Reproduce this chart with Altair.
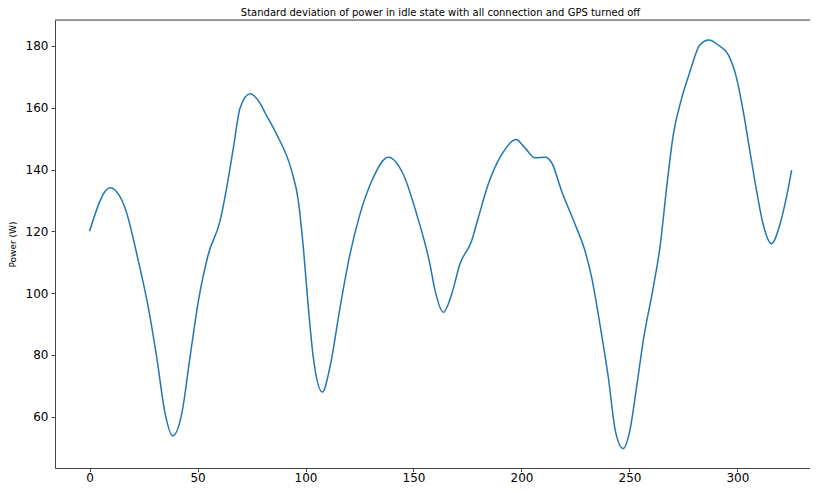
import altair as alt
import pandas as pd

# Time index (s) and standard deviation of power (W)
x_vals = [0.0, 9.5, 16.4, 22.6, 27.2, 31.1, 35.0, 38.5, 42.7, 46.5, 50.4, 55.0,
          60.4, 63.5, 66.6, 69.7, 74.3, 78.9, 81.3, 86.7, 93.6, 96.7, 99.0,
          101.3, 103.6, 107.8, 111.3, 116.0, 120.6, 125.2, 130.6, 138.3, 145.3,
          151.5, 157.6, 160.0, 163.8, 167.7, 171.5, 176.9, 180.0, 184.6, 190.8,
          197.5, 201.6, 206.3, 210.9, 214.0, 218.6, 224.8, 229.4, 232.5, 236.3,
          240.2, 243.6, 247.1, 250.2, 253.3, 256.4, 261.0, 264.1, 267.2, 270.3,
          274.2, 278.0, 282.6, 286.8, 291.1, 295.8, 299.6, 302.7, 305.8, 308.9,
          311.9, 315.8, 319.7, 322.8, 325.1]
y_vals = [120.0, 134.1, 127.6, 110.4, 95.4, 79.2, 61.0, 53.8, 61.0, 79.2, 97.5, 112.6,
          123.3, 134.1, 147.0, 159.9, 164.5, 161.5, 158.3, 151.3, 139.5, 129.8, 114.7,
          95.4, 79.2, 68.0, 76.0, 95.4, 112.6, 125.5, 136.2, 144.0, 138.4,
          125.5, 109.4, 100.8, 93.8, 99.7, 109.4, 116.9, 124.4, 135.2, 144.8,
          149.7, 147.0, 143.8, 144.0, 142.2, 133.0, 122.3, 113.7, 105.1, 90.0,
          72.8, 55.0, 49.7, 55.6, 69.6, 84.6, 101.8, 114.7, 134.1, 151.3,
          163.1, 171.7, 180.3, 181.9, 180.3, 177.1, 169.6, 158.8, 145.8, 133.0,
          122.3, 116.0, 122.3, 131.4, 139.8]

x_ticks = [0, 50, 100, 150, 200, 250, 300]
y_ticks = [60, 80, 100, 120, 140, 160, 180]

df = pd.DataFrame({"t": x_vals, "p": y_vals})

W, H = 755, 448
SPINE = "#444444"
FONT = "DejaVu Sans"

line = alt.Chart(df).mark_line(
    color="#1f77b4", strokeWidth=1.5, interpolate="monotone", clip=True
).encode(
    x=alt.X("t:Q",
            scale=alt.Scale(domain=[-16.0, 333.6], nice=False, zero=False),
            axis=alt.Axis(values=x_ticks, title=None, grid=False, labelFontSize=12,
                          labelFont=FONT, labelColor="#000000", tickColor=SPINE,
                          domainColor=SPINE, tickSize=3.5, labelPadding=1,
                          labelFlush=False, labelOverlap=False, format="d")),
    y=alt.Y("p:Q",
            scale=alt.Scale(domain=[43.4, 188.4], nice=False, zero=False),
            axis=alt.Axis(values=y_ticks, title="Power (W)", grid=False, labelFontSize=12,
                          labelFont=FONT, labelColor="#000000", tickColor=SPINE,
                          domainColor=SPINE, tickSize=4, labelPadding=3,
                          labelFlush=False, labelOverlap=False, format="d",
                          titleFont=FONT, titleFontSize=9, titleFontWeight="normal",
                          titleColor="#000000", titlePadding=8)),
)

top_spine = alt.Chart(pd.DataFrame({"a": [0]})).mark_rule(
    color=SPINE, strokeWidth=1
).encode(x=alt.value(0), x2=alt.value(W), y=alt.value(0))

chart = alt.layer(line, top_spine).properties(
    width=W, height=H,
    title=alt.TitleParams(
        text="Standard deviation of power in idle state with all connection and GPS turned off",
        font=FONT, fontSize=10, fontWeight="normal", color="#000000",
        anchor="middle", dx=8, dy=9.5, offset=1, baseline="bottom"),
    autosize=alt.AutoSizeParams(type="none"),
    padding={"left": 47, "top": 12, "right": 0, "bottom": 17},
).configure_view(stroke=None).configure(background="white")

chart.save("out.html", embed_options={"renderer": "svg", "actions": False})
